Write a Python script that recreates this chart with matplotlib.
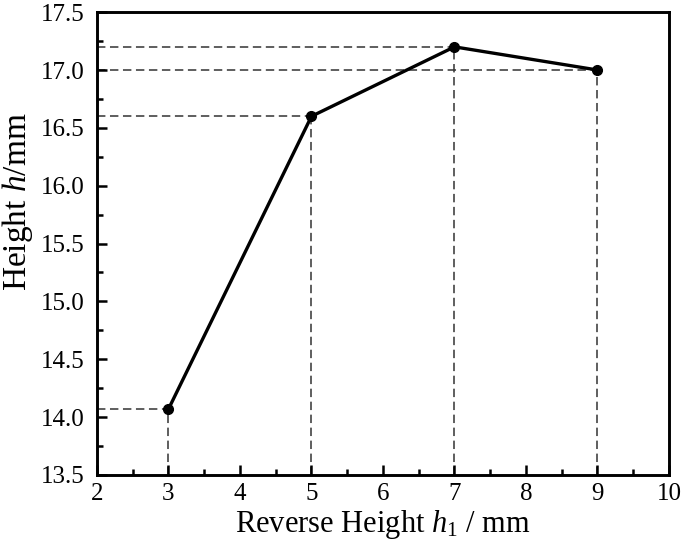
import matplotlib.pyplot as plt
from matplotlib.ticker import MultipleLocator

plt.rcParams['font.family'] = ['Liberation Serif', 'DejaVu Serif']
plt.rcParams['mathtext.fontset'] = 'custom'
plt.rcParams['mathtext.rm'] = 'Liberation Serif'
plt.rcParams['mathtext.it'] = 'Liberation Serif:italic'

# data
reverse_height = [3, 5, 7, 9]
height = [14.07, 16.6, 17.2, 17.0]

fig = plt.figure(figsize=(6.85, 5.52), dpi=100)
ax = fig.add_axes([0.1416, 0.1395, 0.835, 0.8385])

x0, x1 = 2, 10
y0, y1 = 13.5, 17.5

# dashed guide lines to the axes
for x, y in zip(reverse_height, height):
    ax.plot([x0, x], [y, y], ls=(0, (5.5, 3)), color='#333333', lw=1.1, zorder=1)
    ax.plot([x, x], [y0, y], ls=(0, (5.5, 3)), color='#333333', lw=1.1, zorder=1)

ax.plot(reverse_height, height, color='black', lw=2.4, marker='o', ms=7, zorder=3)

ax.set_xlim(x0, x1)
ax.set_ylim(y0, y1)
ax.xaxis.set_major_locator(MultipleLocator(1))
ax.xaxis.set_minor_locator(MultipleLocator(0.5))
ax.yaxis.set_major_locator(MultipleLocator(0.5))
ax.yaxis.set_minor_locator(MultipleLocator(0.25))
ax.yaxis.set_major_formatter(plt.FormatStrFormatter('%.1f'))

ax.tick_params(which='both', direction='in', labelsize=18, width=1.8)
ax.tick_params(which='major', length=7)
ax.tick_params(which='minor', length=4)
ax.tick_params(axis='x', pad=6)
ax.tick_params(axis='y', pad=9)
for s in ax.spines.values():
    s.set_linewidth(2.1)

ax.set_xlabel('Reverse Height $\\mathit{h}_1$ / mm', fontsize=22, labelpad=2)
ax.set_ylabel('Height $\\mathit{h}$/mm', fontsize=24)
ax.yaxis.set_label_coords(-0.108, 0.59)

fig.savefig('out.png', dpi=100)
